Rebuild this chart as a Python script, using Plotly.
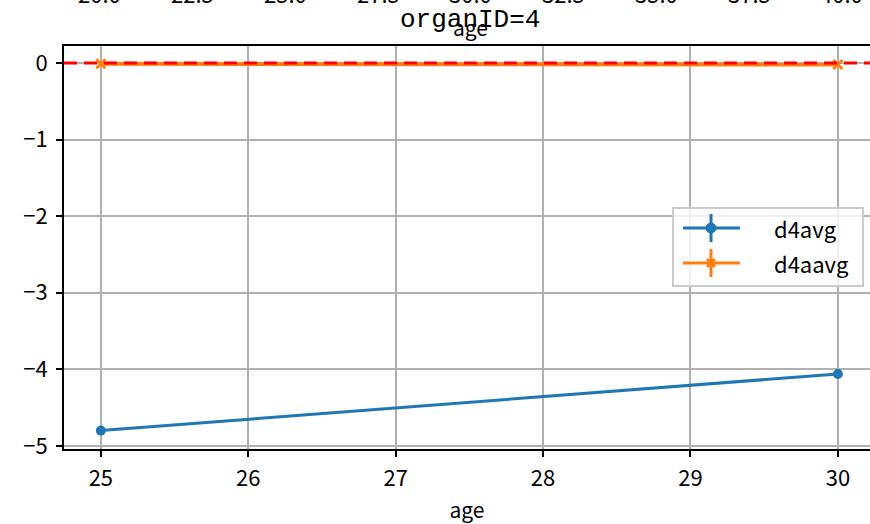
import plotly.graph_objects as go

# ---- data ----
ages = [25, 30]
d4avg = [-4.80, -4.06]
d4aavg = [-0.01, -0.02]
series_names = ["d4avg", "d4aavg"]
ref_line = 0.0
x_ticks = [25, 26, 27, 28, 29, 30]
y_ticks = [0, -1, -2, -3, -4, -5]
# clipped tick labels of the panel above (visible at the very top)
top_tick_values = [20.0, 22.5, 25.0, 27.5, 30.0, 32.5, 35.0, 37.5, 40.0]
title_text = "organID=4"
x_label = "age"

BLUE = "#1f77b4"
ORANGE = "#ff7f0e"
RED = "#ff0000"
FONT = "Noto Sans CJK SC"

W, H = 870, 524
L, T, B = 64, 46, 449
R = 870


def px(x):
    return (x - L) / (R - L)


def py(y):
    return (B - y) / (B - T)


fig = go.Figure()
fig.add_trace(go.Scatter(x=ages, y=d4aavg, mode="lines+markers", name=series_names[1],
                         line=dict(color=ORANGE, width=4),
                         marker=dict(symbol="x-thin", size=9, line=dict(color=ORANGE, width=3)),
                         showlegend=False))
fig.add_trace(go.Scatter(x=ages, y=d4avg, mode="lines+markers", name=series_names[0],
                         line=dict(color=BLUE, width=3),
                         marker=dict(symbol="circle", size=10, color=BLUE),
                         showlegend=False))

# hidden axis for the clipped labels of the panel above
fig.update_layout(xaxis2=dict(overlaying="x", range=[19.03, 40.755], visible=False, automargin=False))
for v in top_tick_values:
    fig.add_annotation(x=v, xref="x2", y=py(11), yref="paper", text=f"{v:.1f}",
                       showarrow=False, font=dict(family=FONT, size=22, color="black"),
                       yanchor="bottom")
fig.add_trace(go.Scatter(x=[30], y=[None], xaxis="x2", showlegend=False, hoverinfo="skip"))

# title and overlapping label of panel above
fig.add_annotation(x=px(470), y=py(20), xref="paper", yref="paper", text=title_text,
                   showarrow=False, font=dict(family="Liberation Mono", size=26, color="black"),
                   xanchor="center", yanchor="middle")
fig.add_annotation(x=px(470), y=py(27), xref="paper", yref="paper", text=x_label,
                   showarrow=False, font=dict(family=FONT, size=21, color="black"),
                   xanchor="center", yanchor="middle")

fig.update_layout(
    width=W, height=H,
    margin=dict(l=L, r=W - R, t=T, b=H - B, autoexpand=False),
    plot_bgcolor="white", paper_bgcolor="white",
    font=dict(family=FONT, size=22, color="black"),
    showlegend=False,
    xaxis=dict(range=[24.75, 30.218], tickvals=x_ticks, showgrid=True, gridcolor="#b0b0b0", gridwidth=1.5,
               zeroline=False, showline=True, linecolor="black", linewidth=2, mirror=True, automargin=False,
               ticks="outside", ticklen=6, tickwidth=1.5, tickcolor="black", ticklabelstandoff=3,
               tickfont=dict(family=FONT, size=22, color="black"),
               title=dict(text=x_label, standoff=16, font=dict(family=FONT, size=21, color="black"))),
    yaxis=dict(range=[-5.04, 0.222], tickvals=y_ticks, showgrid=True, gridcolor="#b0b0b0", gridwidth=1.5,
               zeroline=False, showline=True, linecolor="black", linewidth=2, automargin=False,
               ticks="outside", ticklen=6, tickwidth=1.5, tickcolor="black", ticklabelstandoff=4,
               tickfont=dict(family=FONT, size=22, color="black")),
)

# red dashed horizontal reference line (above the data)
fig.add_hline(y=ref_line, line=dict(color=RED, width=3, dash="13px,7px"), layer="above")

# manual legend (errorbar style)
fig.add_shape(type="rect", xref="paper", yref="paper", x0=px(673), x1=px(863), y0=py(286), y1=py(208),
              line=dict(color="#cccccc", width=2), fillcolor="rgba(255,255,255,0.8)", layer="above")
entries = [(series_names[0], BLUE, 228), (series_names[1], ORANGE, 263)]
for name, col, yy in entries:
    fig.add_shape(type="line", xref="paper", yref="paper", x0=px(683), x1=px(740), y0=py(yy), y1=py(yy),
                  line=dict(color=col, width=3), layer="above")
    fig.add_shape(type="line", xref="paper", yref="paper", x0=px(711), x1=px(711), y0=py(yy - 14), y1=py(yy + 14),
                  line=dict(color=col, width=3), layer="above")
    if col == BLUE:
        fig.add_shape(type="circle", xref="paper", yref="paper", x0=px(706), x1=px(716),
                      y0=py(yy + 5), y1=py(yy - 5), line=dict(color=col, width=1), fillcolor=col, layer="above")
    else:
        for dx, dy in [(-4, -4), (-4, 4)]:
            fig.add_shape(type="line", xref="paper", yref="paper", x0=px(711 + dx), x1=px(711 - dx),
                          y0=py(yy + dy), y1=py(yy - dy), line=dict(color=col, width=3), layer="above")
    fig.add_annotation(x=px(772), y=py(yy), xref="paper", yref="paper", text=name, showarrow=False,
                       xanchor="left", yanchor="middle", font=dict(family=FONT, size=22, color="black"))

fig.write_html("out.html", config={"displayModeBar": False},
               post_script="document.body.style.margin='0';document.body.style.padding='0';")
